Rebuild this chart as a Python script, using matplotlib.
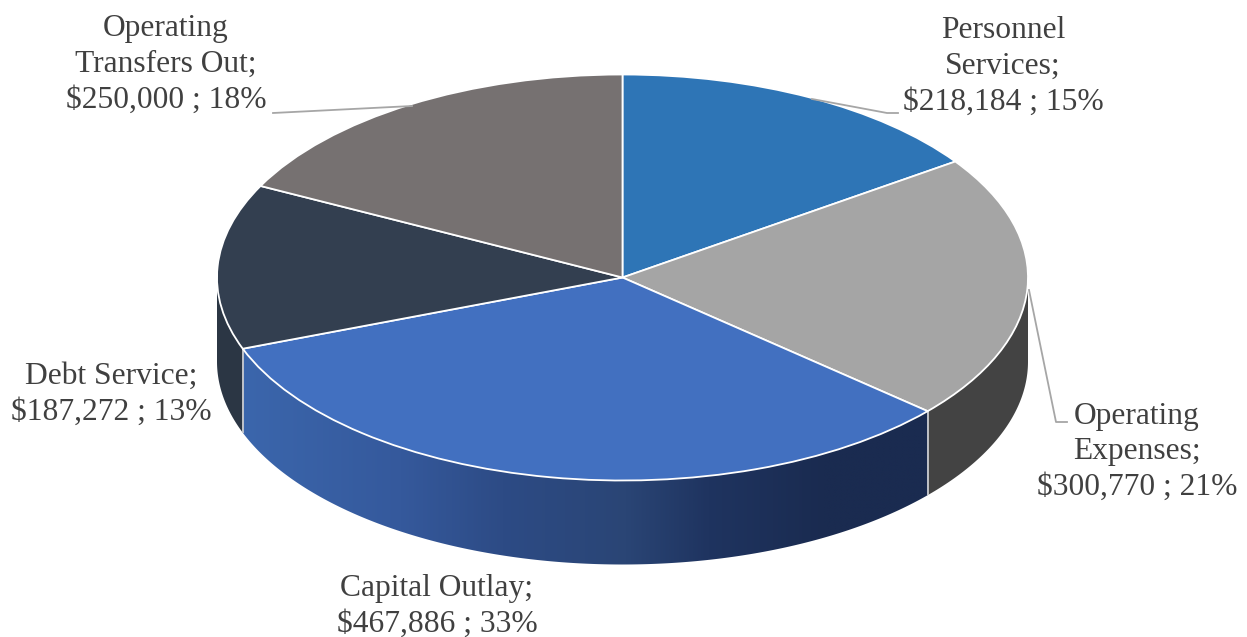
import numpy as np
import matplotlib
matplotlib.use("Agg")
import matplotlib.pyplot as plt
from matplotlib.colors import LinearSegmentedColormap
from matplotlib.patches import Polygon

categories = ["Personnel\nServices", "Operating\nExpenses", "Capital Outlay", "Debt Service", "Operating\nTransfers Out"]
values = [218184, 300770, 467886, 187272, 250000]
top_colors = ["#2E75B6", "#A5A5A5", "#4270C0", "#333F50", "#767171"]
side_colors = ["#245A8C", "#434343", "#1A2B50", "#2B3644", "#5A5656"]
label_centers = [(1003, 66.5), (1137, 452), (437, 606.5), (111, 394), (166, 64.5)]
leaders = [
    [(812, 99), (887, 113), (898, 113)],
    [(1029, 290), (1056, 422), (1067, 422)],
    None,
    None,
    [(412, 106), (273, 113)],
]

W, H = 1247, 637
CX, CY, RX, RY, DEPTH = 622.5, 277.5, 405.5, 203.0, 84.0

plt.rcParams["font.family"] = ["Liberation Serif", "DejaVu Serif"]
fig = plt.figure(figsize=(W / 100, H / 100), dpi=100, facecolor="white")
ax = fig.add_axes([0, 0, 1, 1])


def ux(p):
    return (p - CX) / RX


def uy(p):
    return (CY - p) / RY


drop = DEPTH / RY
vals = np.array(values, dtype=float)
edges = np.concatenate([[0], np.cumsum(vals)]) / vals.sum() * 2 * np.pi


def wall(a0, a1):
    a0, a1 = max(a0, np.pi / 2), min(a1, 3 * np.pi / 2)
    if a1 <= a0:
        return None
    t = np.linspace(a0, a1, 300)
    x, y = np.sin(t), np.cos(t)
    return np.vstack([np.column_stack([x, y]), np.column_stack([x[::-1], y[::-1] - drop])])


gradient = LinearSegmentedColormap.from_list(
    "wall",
    [(0.0, "#3B66AC"), (0.23, "#35599C"), (0.38, "#2D4B85"), (0.56, "#2A4575"),
     (0.68, "#1F3460"), (0.85, "#1A2B50"), (1.0, "#1A2B50")],
)

for i in range(len(vals)):
    pts = wall(edges[i], edges[i + 1])
    if pts is None:
        continue
    if categories[i] == "Capital Outlay":
        poly = Polygon(pts, closed=True, facecolor="none", edgecolor="none")
        ax.add_patch(poly)
        pad = 0.03
        im = ax.imshow(np.linspace(0, 1, 512)[None, :], cmap=gradient, aspect="auto",
                       extent=(pts[:, 0].min(), pts[:, 0].max(), pts[:, 1].min() - pad, pts[:, 1].max() + pad),
                       zorder=1, interpolation="bilinear")
        im.set_clip_path(poly)
    else:
        ax.add_patch(Polygon(pts, closed=True, facecolor=side_colors[i], edgecolor="none", zorder=1))

# vertical seams between visible side walls
for a in edges[1:-1]:
    if np.pi / 2 < a < 3 * np.pi / 2:
        ax.plot([np.sin(a)] * 2, [np.cos(a), np.cos(a) - drop], color="#C9CBCF", lw=1.3, zorder=2,
                solid_capstyle="butt")

wedges, _ = ax.pie(vals, colors=top_colors, startangle=90, counterclock=False, radius=1.0,
                   wedgeprops=dict(edgecolor="white", linewidth=1.3))
for w in wedges:
    w.set_zorder(3)

ax.set_aspect("auto")
ax.set_xlim(ux(0), ux(W))
ax.set_ylim(uy(H), uy(0))
ax.axis("off")

pct = vals / vals.sum() * 100
for name, v, p, (lx, ly) in zip(categories, values, pct, label_centers):
    ax.text(ux(lx), uy(ly), f"{name};\n${v:,} ; {p:.0f}%", ha="center", va="center",
            multialignment="center", fontsize=22.7, color="#404040", linespacing=1.31, zorder=6)

for seg in leaders:
    if seg:
        ax.plot([ux(s[0]) for s in seg], [uy(s[1]) for s in seg], color="#A6A6A6", lw=1.3, zorder=5)

fig.savefig("out.png", dpi=100, facecolor="white")
